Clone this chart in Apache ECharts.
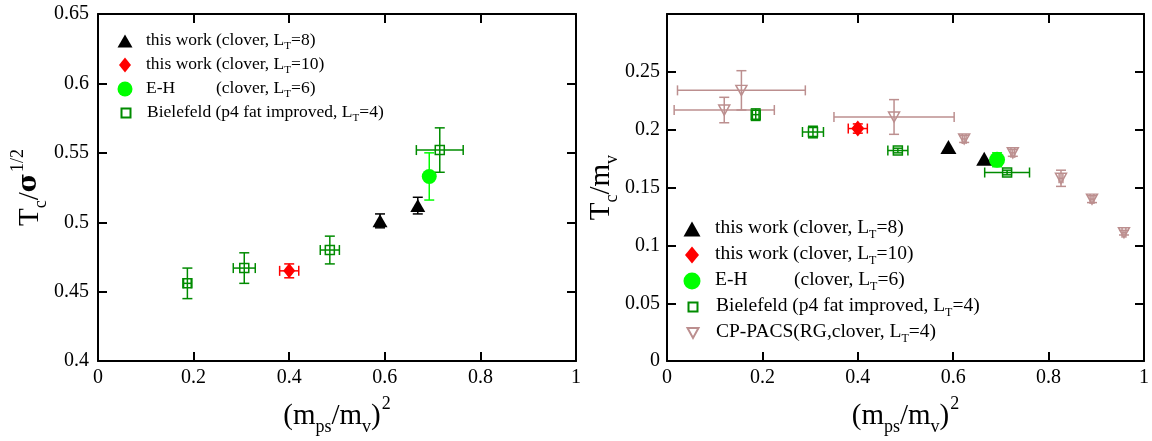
<!DOCTYPE html>
<html>
<head>
<meta charset="utf-8">
<script src="https://cdn.jsdelivr.net/npm/echarts@6/dist/echarts.min.js"></script>
<style>
  html, body { margin: 0; padding: 0; background: #fff; }
  #chart { width: 1152px; height: 441px; }
</style>
</head>
<body>
<div id="chart"></div>
<script>
// ---------- left panel: Tc / sigma^(1/2) ----------
const l8LeftX = [0.590, 0.669];
const l8LeftY = [0.501, 0.512];
const l8LeftYErr = [0.005, 0.006];

const l10LeftX = [0.400];
const l10LeftY = [0.465];
const l10LeftXErr = [0.020];
const l10LeftYErr = [0.005];

const ehLeftX = [0.693];
const ehLeftY = [0.533];
const ehLeftYErr = [0.017];

const bielLeftX = [0.187, 0.306, 0.485, 0.715];
const bielLeftY = [0.456, 0.467, 0.480, 0.552];
const bielLeftXErr = [0.008, 0.023, 0.020, 0.049];
const bielLeftYErr = [0.011, 0.011, 0.010, 0.016];

// ---------- right panel: Tc / m_v ----------
const l8RightX = [0.590, 0.665];
const l8RightY = [0.185, 0.175];

const l10RightX = [0.400];
const l10RightY = [0.201];
const l10RightXErr = [0.020];
const l10RightYErr = [0.004];

const ehRightX = [0.692];
const ehRightY = [0.174];
const ehRightYErr = [0.006];

const bielRightX = [0.186, 0.306, 0.484, 0.713];
const bielRightY = [0.213, 0.198, 0.182, 0.163];
const bielRightXErr = [0.007, 0.022, 0.021, 0.047];
const bielRightYErr = [0.005, 0.005, 0.002, 0.002];

const cpX = [0.120, 0.156, 0.476, 0.623, 0.725, 0.826, 0.891, 0.958];
const cpY = [0.217, 0.234, 0.211, 0.192, 0.180, 0.158, 0.140, 0.111];
const cpXErr = [0.105, 0.134, 0.126, 0.004, 0.004, 0.004, 0.004, 0.004];
const cpYErr = [0.011, 0.017, 0.015, 0.003, 0.003, 0.007, 0.003, 0.002];

// axis ranges / ticks
const xMin = 0, xMax = 1, xStep = 0.2;
const yLeftMin = 0.4, yLeftMax = 0.65, yLeftStep = 0.05;
const yRightMin = 0, yRightMax = 0.3, yRightStep = 0.05;

// legend text pieces: [before subscript, subscript, after]
const legendText = {
  L8: ['this work (clover, L', 'T', '=8)'],
  L10: ['this work (clover, L', 'T', '=10)'],
  EH: ['(clover, L', 'T', '=6)'],
  Biel: ['Bielefeld (p4 fat improved, L', 'T', '=4)'],
  CP: ['CP-PACS(RG,clover, L', 'T', '=4)'],
};

const SERIF = '"Liberation Serif", "DejaVu Serif", serif';
const BLACK = '#000000';
const RED = '#ff0000';
const LIME = '#00ff00';
const GREEN = '#008b00';
const ROSY = '#bc8f8f';
const TRI_DOWN = 'path://M0,0 L10,0 L5,9 Z';

function rows(xs, ys, xe, ye) {
  return xs.map((x, i) => [x, ys[i], xe ? xe[i] : 0, ye ? ye[i] : 0]);
}

function errRender(color, cap) {
  return function (params, api) {
    const x = api.value(0), y = api.value(1), xe = api.value(2), ye = api.value(3);
    const c = api.coord([x, y]);
    const st = { stroke: color, lineWidth: 1.5, fill: null };
    const kids = [];
    const seg = (x1, y1, x2, y2) => kids.push({ type: 'line', shape: { x1, y1, x2, y2 }, style: st });
    if (ye > 0) {
      const t = api.coord([x, y + ye])[1], b = api.coord([x, y - ye])[1];
      seg(c[0], t, c[0], b);
      seg(c[0] - cap, t, c[0] + cap, t);
      seg(c[0] - cap, b, c[0] + cap, b);
    }
    if (xe > 0) {
      const l = api.coord([x - xe, y])[0], r = api.coord([x + xe, y])[0];
      seg(l, c[1], r, c[1]);
      seg(l, c[1] - cap, l, c[1] + cap);
      seg(r, c[1] - cap, r, c[1] + cap);
    }
    return { type: 'group', children: kids };
  };
}

function errSeries(idx, data, color) {
  return {
    type: 'custom', name: 'err', xAxisIndex: idx, yAxisIndex: idx,
    data, encode: { x: 0, y: 1 }, renderItem: errRender(color, 5),
    silent: true, clip: false, z: 1,
  };
}

function pointSeries(idx, name, data, symbol, size, style) {
  return {
    type: 'scatter', name, xAxisIndex: idx, yAxisIndex: idx,
    data: data.map(d => [d[0], d[1]]), symbol, symbolSize: size,
    itemStyle: Object.assign({ opacity: 1 }, style), silent: true, z: 3,
  };
}

function axisPair(grid, lo, hi, step, isX, fmt, labelMargin) {
  const base = {
    gridIndex: grid, type: 'value', min: lo, max: hi, interval: step,
    axisLine: { show: true, onZero: false, lineStyle: { color: BLACK, width: 2 } },
    axisTick: { show: true, inside: true, length: 9, lineStyle: { color: BLACK, width: 2 } },
    splitLine: { show: false },
  };
  return [
    Object.assign({}, base, {
      position: isX ? 'bottom' : 'left',
      axisLabel: {
        show: true, fontFamily: SERIF, fontSize: 20, color: BLACK, margin: labelMargin,
        showMinLabel: true, showMaxLabel: true, formatter: fmt,
      },
    }),
    Object.assign({}, base, { position: isX ? 'top' : 'right', axisLabel: { show: false } }),
  ];
}

const fmtNum = v => String(+v.toFixed(2));

// axis-name rich styles (subscripts and superscripts)
const titleRich = {
  t: { fontFamily: SERIF, fontSize: 29, lineHeight: 29, verticalAlign: 'top', padding: [9, 0, 0, 0], color: BLACK },
  g: { fontFamily: '"DejaVu Serif", serif', fontWeight: 'bold', fontSize: 26, lineHeight: 29, verticalAlign: 'top', padding: [9, 0, 0, 0], color: BLACK },
  s: { fontFamily: SERIF, fontSize: 18, lineHeight: 18, verticalAlign: 'top', padding: [25, 0, 0, 0], color: BLACK },
  p: { fontFamily: SERIF, fontSize: 18, lineHeight: 18, verticalAlign: 'top', padding: [2, 0, 0, 1], color: BLACK },
};

const xTitle = '{t|(m}{s|ps}{t|/m}{s|v}{t|)}{p|2}';
const yLeftTitle = '{t|T}{s|c}{t|/}{g|σ}{p|1/2}';
const yRightTitle = '{t|T}{s|c}{t|/m}{s|v}';

const [xl0, xl1] = axisPair(0, xMin, xMax, xStep, true, fmtNum, 7);
const [xr0, xr1] = axisPair(1, xMin, xMax, xStep, true, fmtNum, 7);
const [yl0, yl1] = axisPair(0, yLeftMin, yLeftMax, yLeftStep, false, fmtNum, 9);
const [yr0, yr1] = axisPair(1, yRightMin, yRightMax, yRightStep, false,
  v => (v > 0.29 ? '' : fmtNum(v)), 7);
xl1.gridIndex = 0; xr1.gridIndex = 1; yl1.gridIndex = 0; yr1.gridIndex = 1;

[xl0, xr0].forEach(a => Object.assign(a, {
  name: xTitle, nameLocation: 'middle', nameGap: 22,
  nameTextStyle: { rich: titleRich, verticalAlign: 'top' },
}));
Object.assign(yl0, {
  name: yLeftTitle, nameLocation: 'middle', nameGap: 50, nameRotate: 90,
  nameTextStyle: { rich: titleRich },
});
Object.assign(yr0, {
  name: yRightTitle, nameLocation: 'middle', nameGap: 52, nameRotate: 90,
  nameTextStyle: { rich: titleRich },
});

// ---------- legends: one row each, icon box sized to the marker ----------
function legendRow(name, iconX, iconY, textX, fontSize, iconW, iconH, gapWidth) {
  const subSize = Math.round(fontSize * 0.62);
  const lh = Math.round(fontSize * 1.15);
  const spacer = Math.max(0, textX - iconX - iconW / 2 - 5);
  const rowH = lh + 2;
  return {
    left: iconX - iconW / 2, top: iconY - rowH / 2, padding: 0,
    orient: 'vertical', selectedMode: false,
    itemWidth: iconW, itemHeight: iconH, data: [{ name }],
    formatter: n => {
      const p = legendText[n];
      const head = n === 'EH' ? '{w|E-H}' : '';
      return '{sp| }' + head + '{a|' + p[0] + '}{s|' + p[1] + '}{a|' + p[2] + '}';
    },
    textStyle: {
      color: BLACK, fontFamily: SERIF, fontSize,
      rich: {
        sp: { fontSize, lineHeight: lh, verticalAlign: 'top', width: spacer },
        a: { fontFamily: SERIF, fontSize, lineHeight: lh, verticalAlign: 'top', color: BLACK },
        w: { fontFamily: SERIF, fontSize, lineHeight: lh, verticalAlign: 'top', color: BLACK, width: gapWidth },
        s: { fontFamily: SERIF, fontSize: subSize, lineHeight: subSize, verticalAlign: 'top',
             padding: [Math.round(fontSize * 0.55), 0, 0, 0], color: BLACK },
      },
    },
  };
}

const leftRowsY = [42, 66, 90, 114];
const rightRowsY = [230, 256, 282, 308, 334];
const leftNames = ['L8', 'L10', 'EH', 'Biel'];
const rightNames = ['L8', 'L10', 'EH', 'Biel', 'CP'];
const leftIconW = [15, 12, 15, 9];
const leftIconH = [13, 15, 15, 9];
const rightIconW = [17, 14, 17, 9, 11];
const rightIconH = [15, 17, 17, 9, 10];

const legends = [
  ...leftNames.map((n, i) => legendRow(n, 125, leftRowsY[i], 146, 17.5, leftIconW[i], leftIconH[i], 70)),
  ...rightNames.map((n, i) => legendRow(n, 692, rightRowsY[i], 715, 19.5, rightIconW[i], rightIconH[i], 79)),
];

const hollowGreen = { color: 'rgba(0,0,0,0)', borderColor: GREEN, borderWidth: 1.5 };
const hollowRosy = { color: 'rgba(0,0,0,0)', borderColor: ROSY, borderWidth: 1.5 };

const dL8L = rows(l8LeftX, l8LeftY, null, l8LeftYErr);
const dL10L = rows(l10LeftX, l10LeftY, l10LeftXErr, l10LeftYErr);
const dEHL = rows(ehLeftX, ehLeftY, null, ehLeftYErr);
const dBielL = rows(bielLeftX, bielLeftY, bielLeftXErr, bielLeftYErr);
const dL8R = rows(l8RightX, l8RightY);
const dL10R = rows(l10RightX, l10RightY, l10RightXErr, l10RightYErr);
const dEHR = rows(ehRightX, ehRightY, null, ehRightYErr);
const dBielR = rows(bielRightX, bielRightY, bielRightXErr, bielRightYErr);
const dCP = rows(cpX, cpY, cpXErr, cpYErr);

const option = {
  backgroundColor: '#ffffff',
  animation: false,
  grid: [
    { left: 98, top: 14, width: 478, height: 354, containLabel: false },
    { left: 667, top: 14, width: 477, height: 354, containLabel: false },
  ],
  xAxis: [xl0, xr0, xl1, xr1],
  yAxis: [yl0, yr0, yl1, yr1],
  legend: legends,
  series: [
    errSeries(0, dBielL, GREEN),
    errSeries(0, dL10L, RED),
    errSeries(0, dL8L, BLACK),
    errSeries(0, dEHL, LIME),
    pointSeries(0, 'Biel', dBielL, 'rect', 9, hollowGreen),
    pointSeries(0, 'L10', dL10L, 'diamond', [12, 15], { color: RED }),
    pointSeries(0, 'L8', dL8L, 'triangle', [15, 13], { color: BLACK }),
    pointSeries(0, 'EH', dEHL, 'circle', 15, { color: LIME }),

    errSeries(1, dCP, ROSY),
    errSeries(1, dBielR, GREEN),
    errSeries(1, dL10R, RED),
    errSeries(1, dEHR, LIME),
    pointSeries(1, 'CP', dCP, TRI_DOWN, [11, 10], hollowRosy),
    pointSeries(1, 'Biel', dBielR, 'rect', 9, hollowGreen),
    pointSeries(1, 'L10', dL10R, 'diamond', [13, 16], { color: RED }),
    pointSeries(1, 'L8', dL8R, 'triangle', [16, 14], { color: BLACK }),
    pointSeries(1, 'EH', dEHR, 'circle', 16, { color: LIME }),
  ],
};

const chart = echarts.init(document.getElementById('chart'), null, { renderer: 'canvas' });
chart.setOption(option);
</script>
</body>
</html>
